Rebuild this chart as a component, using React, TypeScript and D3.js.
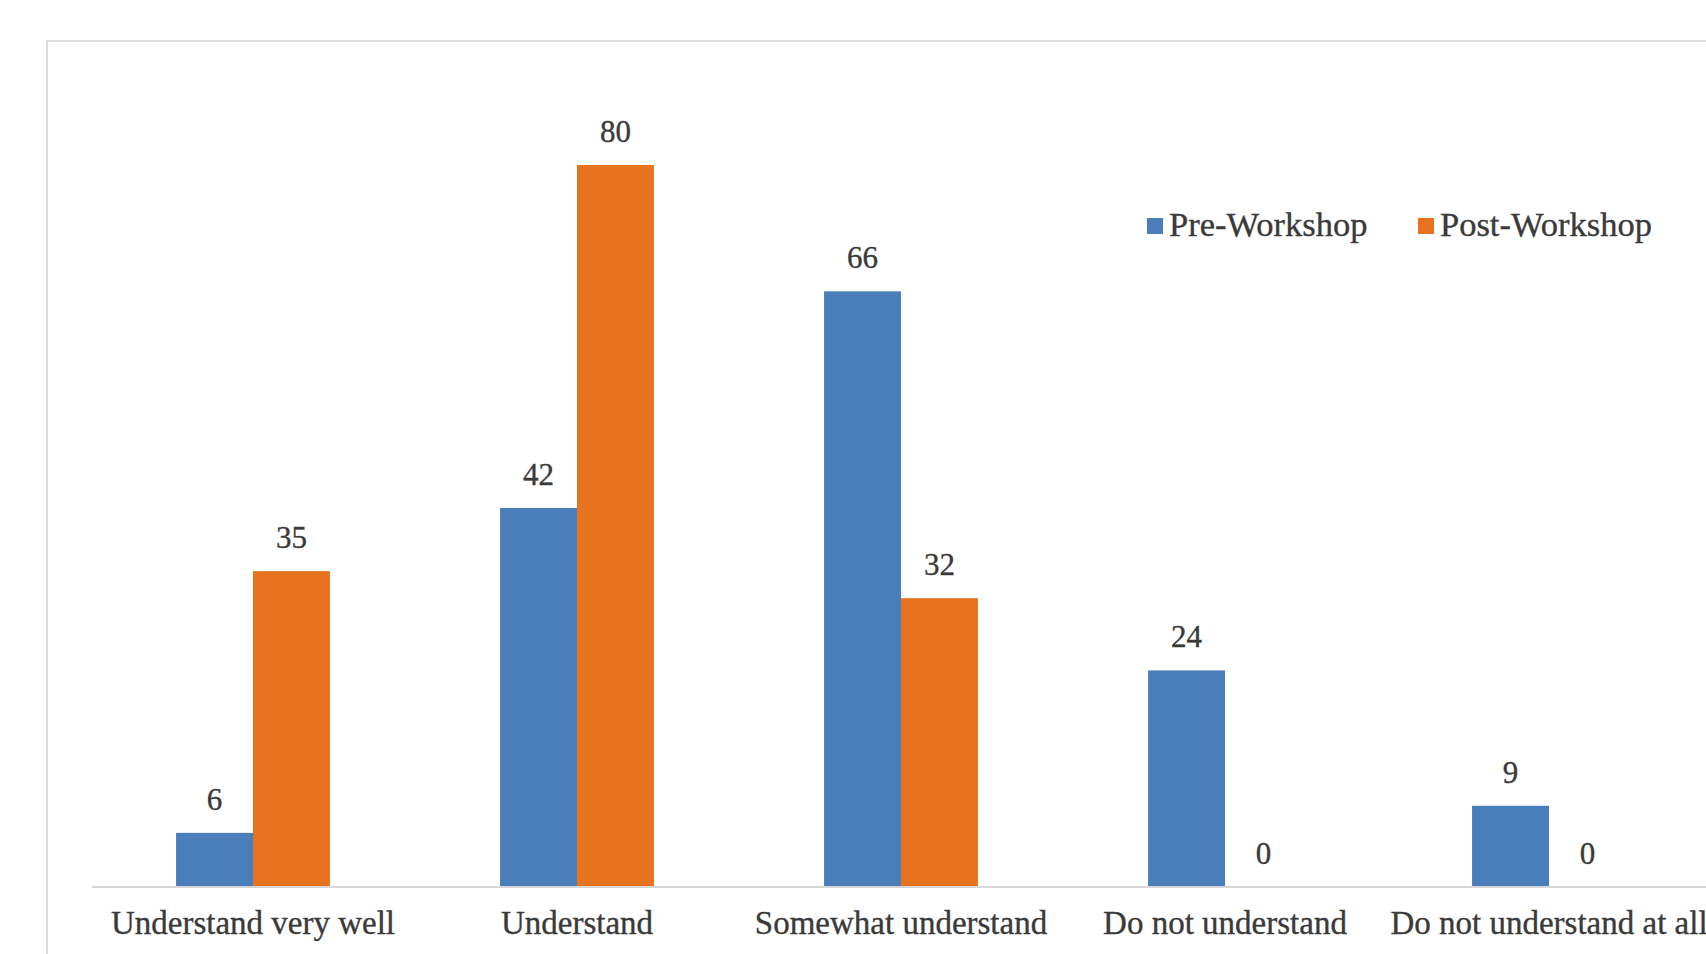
import React from "react";
import * as d3 from "d3";

const categories = [
  "Understand very well",
  "Understand",
  "Somewhat understand",
  "Do not understand",
  "Do not understand at all",
];
const seriesNames = ["Pre-Workshop", "Post-Workshop"];
const preWorkshop = [6, 42, 66, 24, 9];
const postWorkshop = [35, 80, 32, 0, 0];
const colors = ["#4A7EBB", "#E8731F"];

const W = 1706;
const H = 954;
const baseY = 887;
const topY = 165;

export default function App() {
  const x0 = d3
    .scaleBand<string>()
    .domain(categories)
    .range([91, 1711])
    .paddingInner(0.525)
    .paddingOuter(0.2625);
  const x1 = d3
    .scaleBand<string>()
    .domain(seriesNames)
    .range([0, x0.bandwidth()]);
  const y = d3.scaleLinear().domain([0, 80]).range([baseY, topY]);
  const series = [preWorkshop, postWorkshop];
  const font = "'Liberation Serif', 'Times New Roman', serif";
  const textColor = "#3a3a3a";
  const textStroke = { stroke: textColor, strokeWidth: 0.35 };

  const legendItems = [
    { name: seriesNames[0], color: colors[0], x: 1147 },
    { name: seriesNames[1], color: colors[1], x: 1418 },
  ];

  return (
    <svg
      width={W}
      height={H}
      style={{ position: "absolute", left: 0, top: 0, background: "#fff" }}
      fontFamily={font}
    >
      <rect x={47} y={41} width={2000} height={2000} fill="#fff" stroke="#dcdcdc" strokeWidth={2} />
      {categories.map((c, i) =>
        series.map((s, j) => {
          const bx = (x0(c) as number) + (x1(seriesNames[j]) as number);
          const v = s[i];
          return (
            <g key={c + j}>
              <rect
                x={bx}
                y={y(v)}
                width={x1.bandwidth()}
                height={baseY - y(v)}
                fill={colors[j]}
              />
              <text
                x={bx + x1.bandwidth() / 2}
                y={y(v) - 23}
                textAnchor="middle"
                fontSize={31}
                fill={textColor}
                {...textStroke}
              >
                {v}
              </text>
            </g>
          );
        })
      )}
      <line x1={92} x2={W} y1={baseY} y2={baseY} stroke="#d6d6d6" strokeWidth={2} />
      {categories.map((c) => (
        <text
          key={c}
          x={(x0(c) as number) + x0.bandwidth() / 2}
          y={934}
          textAnchor="middle"
          fontSize={33}
          fill={textColor}
          {...textStroke}
        >
          {c}
        </text>
      ))}
      {legendItems.map((l) => (
        <g key={l.name}>
          <rect x={l.x} y={218} width={16} height={16} fill={l.color} />
          <text x={l.x + 22} y={236} fontSize={34.5} fill={textColor} {...textStroke}>
            {l.name}
          </text>
        </g>
      ))}
    </svg>
  );
}
